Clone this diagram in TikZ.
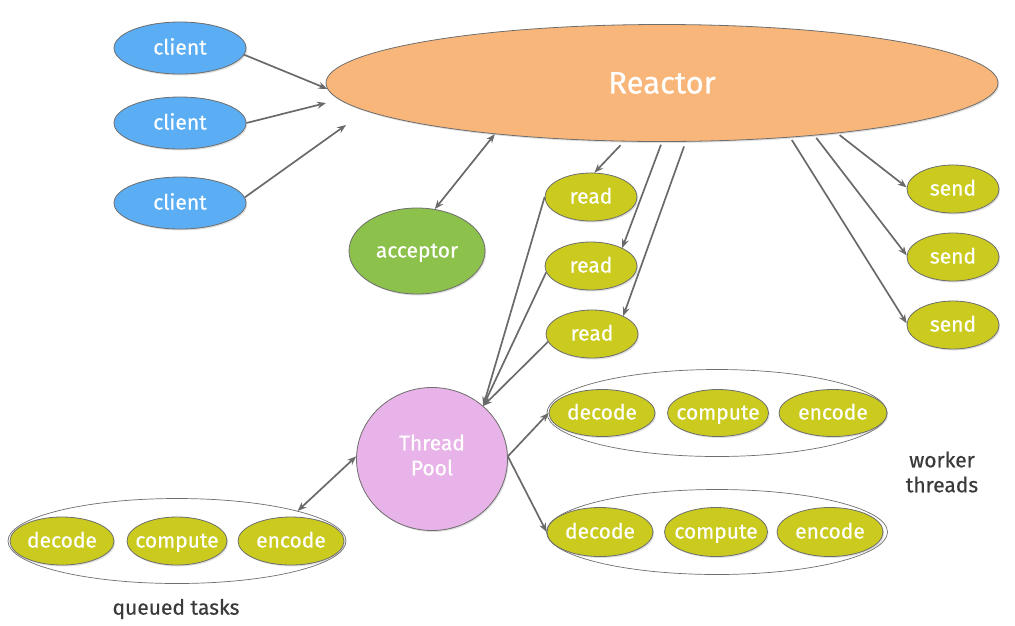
\documentclass[tikz,border=0pt]{standalone}
\usepackage{fontspec}
\setmainfont{Fira Sans}[FakeBold=0.5]
\usetikzlibrary{shapes.geometric,arrows.meta,shadows}
\definecolor{cblue}{HTML}{5BADF4}
\definecolor{corange}{HTML}{F9B67A}
\definecolor{cgreen}{HTML}{8CC14B}
\definecolor{colive}{HTML}{CBCB1F}
\definecolor{cpink}{HTML}{E8B3E8}
\definecolor{cgray}{HTML}{6A6A6A}
\definecolor{cline}{HTML}{6E6E6E}
\definecolor{ctext}{HTML}{3A3A3A}
\newcommand\zb[1]{\makebox[0pt]{#1}}
\begin{document}
\begin{tikzpicture}[x=1pt,y=-1pt,
  el/.style={ellipse, draw=cline, line width=0.8pt, inner sep=0pt, text=white,
    font=\fontsize{21}{24}\selectfont,
    drop shadow={opacity=0.25, shadow xshift=1.2pt, shadow yshift=-1.5pt}},
  small/.style={text height=16pt, text depth=3pt},
  clientbox/.style={el, small, fill=cblue, minimum width=132pt, minimum height=52pt},
  taskbox/.style={el, small, fill=colive, minimum width=92pt, minimum height=48pt},
  groupbox/.style={ellipse, draw=cline, line width=0.7pt, fill=white, inner sep=0pt},
  lbl/.style={text=ctext, font=\fontsize{21}{25}\selectfont, align=center},
  arr/.style={draw=cgray, line width=1.7pt, -{Stealth[length=9pt,width=7pt]}},
  darr/.style={draw=cgray, line width=1.7pt, {Stealth[length=9pt,width=7pt]}-{Stealth[length=9pt,width=7pt]}}
]
\useasboundingbox (0,0) rectangle (1015,625);

% clients
\node[clientbox] (c1) at (180,48) {\zb{client}};
\node[clientbox] (c2) at (180,123) {\zb{client}};
\node[clientbox] (c3) at (180,203) {\zb{client}};

% reactor
\node[el, fill=corange, minimum width=672pt, minimum height=117pt,
      font=\fontsize{31}{34}\selectfont] (reactor) at (662,83) {Reactor};

% acceptor
\node[el, small, fill=cgreen, minimum width=136pt, minimum height=86pt] (acc) at (417,251) {\zb{acceptor}};

% reads
\node[taskbox] (r1) at (591,197) {\zb{read}};
\node[taskbox] (r2) at (591,266) {\zb{read}};
\node[taskbox] (r3) at (592,334) {\zb{read}};

% sends
\node[taskbox] (s1) at (953,189) {\zb{send}};
\node[taskbox] (s2) at (953,257) {\zb{send}};
\node[taskbox] (s3) at (953,325) {\zb{send}};

% thread pool
\node[el, fill=cpink, minimum width=151pt, minimum height=143pt] (tp) at (432,459) {};
\node[text=white, font=\fontsize{21}{25}\selectfont, align=center] (tpl) at (432,455) {Thread\\Pool};

% queued tasks group
\node[groupbox, minimum width=338pt, minimum height=85pt] (qg) at (177,541) {};
\node[taskbox, minimum width=104pt] (qd) at (62,541) {\zb{decode}};
\node[taskbox, minimum width=100pt] (qc) at (177,541) {\zb{compute}};
\node[taskbox, minimum width=106pt] (qe) at (291,541) {\zb{encode}};

% worker group 1
\node[groupbox, minimum width=340pt, minimum height=87pt] (g1) at (717,413) {};
\node[taskbox, minimum width=106pt, minimum height=47pt] (d1) at (602,413) {\zb{decode}};
\node[taskbox, minimum width=101pt, minimum height=47pt] (m1) at (718,413) {\zb{compute}};
\node[taskbox, minimum width=108pt, minimum height=47pt] (e1) at (833,413) {\zb{encode}};

% worker group 2
\node[groupbox, minimum width=341pt, minimum height=85pt] (g2) at (717,532) {};
\node[taskbox, minimum width=106pt, minimum height=49pt] (d2) at (600,532) {\zb{decode}};
\node[taskbox, minimum width=103pt, minimum height=49pt] (m2) at (716,532) {\zb{compute}};
\node[taskbox, minimum width=106pt, minimum height=49pt] (e2) at (830,532) {\zb{encode}};

% labels
\node[lbl] (wt) at (942,472) {worker\\threads};
\node[lbl] (qt) at (176,609) {queued tasks};

% free ends
\coordinate (f2) at (326,103);
\coordinate (f3) at (346,125);

% connectors
\draw[arr] (c1.-6) -- (reactor.181);
\draw[arr] (c2.east) -- (f2);
\draw[arr] (c3.5) -- (f3);

\draw[darr] (reactor.197) -- (acc.67);

\draw[arr, shorten <=5pt] (reactor.237) -- (r1.82);
\draw[arr, shorten <=3pt] (reactor.270) -- (r2.30);
\draw[arr, shorten <=5pt] (reactor.292) -- (r3.30);

\draw[arr, shorten <=3pt] (reactor.-23) -- (s3.178);
\draw[arr, shorten <=3pt] (reactor.-19) -- (s2.178);
\draw[arr, shorten <=3pt] (reactor.-16) -- (s1.178);

\draw[arr] (r1.west) -- (tp.46);
\draw[arr] (r2.188) -- (tp.46);
\draw[arr] (r3.190) -- (tp.46);

\draw[arr] (tp.2) -- (d1.west);
\draw[arr] (tp.2) -- (d2.west);

\draw[darr] (tp.178) -- (qg.14);
\end{tikzpicture}
\end{document}
